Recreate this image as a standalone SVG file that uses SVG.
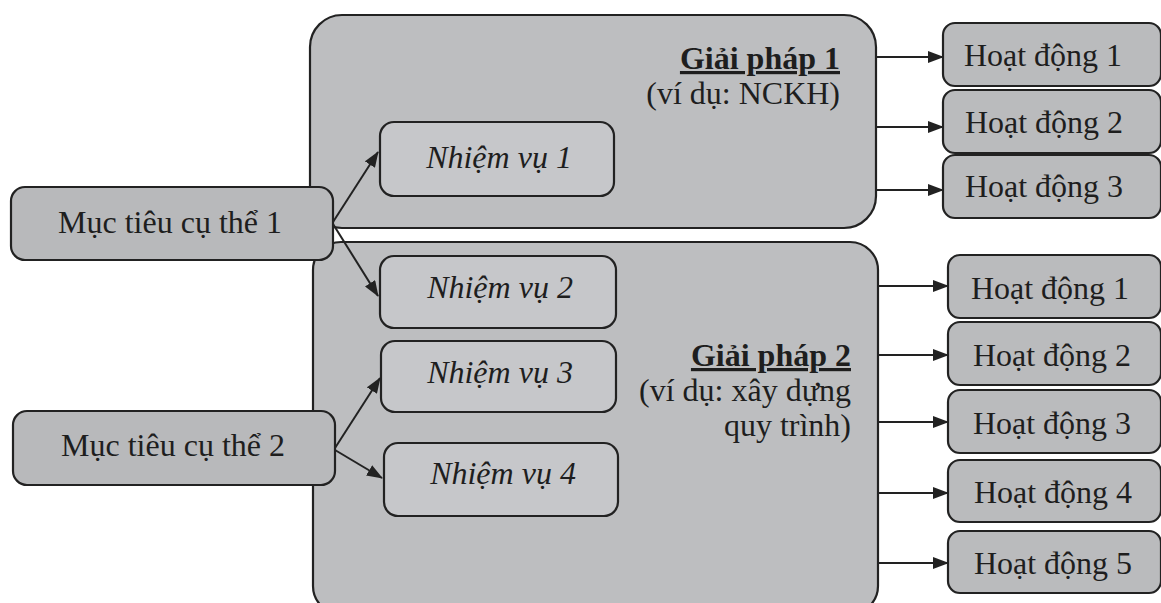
<svg xmlns="http://www.w3.org/2000/svg" width="1161" height="603" viewBox="0 0 1161 603">
<style>
.big{fill:#bdbec0;stroke:#222;stroke-width:2.2}
.mt{fill:#b8b9bb;stroke:#222;stroke-width:2.2}
.nv{fill:#c6c7ca;stroke:#222;stroke-width:2.2}
.hd{fill:#babbbd;stroke:#222;stroke-width:2.2}
.t{font-family:"Liberation Serif","Times New Roman",serif;font-size:32px;fill:#1e1e1e}
.i{font-style:italic}
.b{font-weight:bold;text-decoration:underline}
.c{stroke:#222;stroke-width:2;fill:none;marker-end:url(#ah)}
</style>
<defs>
<marker id="ah" viewBox="0 0 16 12" refX="15" refY="6" markerWidth="16" markerHeight="12" markerUnits="userSpaceOnUse" orient="auto">
<path d="M0,0 L16,6 L0,12 Z" fill="#222"/>
</marker>
</defs>
<rect width="1161" height="603" fill="#ffffff"/>
<g id="gp1"><rect class="big" x="310" y="15" width="566" height="213" rx="32"/>
<text class="t b" x="840" y="69" text-anchor="end">Giải pháp 1</text>
<text class="t" x="840" y="104" text-anchor="end">(ví dụ: NCKH)</text></g>
<g id="gp2"><rect class="big" x="313" y="242" width="565" height="372" rx="28"/>
<text class="t b" x="851" y="366" text-anchor="end">Giải pháp 2</text>
<text class="t" x="851" y="401" text-anchor="end">(ví dụ: xây dựng</text>
<text class="t" x="851" y="436" text-anchor="end">quy trình)</text></g>
<g id="mt1"><rect class="mt" x="11" y="187" width="322" height="73" rx="14"/><text class="t" x="170" y="233" text-anchor="middle">Mục tiêu cụ thể 1</text></g>
<g id="mt2"><rect class="mt" x="13" y="411" width="322" height="74" rx="14"/><text class="t" x="173" y="456" text-anchor="middle">Mục tiêu cụ thể 2</text></g>
<g id="nv1"><rect class="nv" x="380" y="122" width="234" height="74" rx="14"/><text class="t i" x="499" y="168" text-anchor="middle">Nhiệm vụ 1</text></g>
<g id="nv2"><rect class="nv" x="380" y="256" width="236" height="72" rx="14"/><text class="t i" x="500" y="298" text-anchor="middle">Nhiệm vụ 2</text></g>
<g id="nv3"><rect class="nv" x="381" y="341" width="235" height="71" rx="14"/><text class="t i" x="500" y="383" text-anchor="middle">Nhiệm vụ 3</text></g>
<g id="nv4"><rect class="nv" x="384" y="443" width="234" height="73" rx="14"/><text class="t i" x="503" y="484" text-anchor="middle">Nhiệm vụ 4</text></g>
<g id="hd1a"><rect class="hd" x="943" y="23" width="218" height="63" rx="12"/><text class="t" x="1043" y="66" text-anchor="middle">Hoạt động 1</text></g>
<g id="hd2a"><rect class="hd" x="943" y="90" width="218" height="63" rx="12"/><text class="t" x="1044" y="133" text-anchor="middle">Hoạt động 2</text></g>
<g id="hd3a"><rect class="hd" x="943" y="155" width="218" height="63" rx="12"/><text class="t" x="1044" y="197" text-anchor="middle">Hoạt động 3</text></g>
<g id="hd1b"><rect class="hd" x="948" y="255" width="213" height="63" rx="12"/><text class="t" x="1050" y="299" text-anchor="middle">Hoạt động 1</text></g>
<g id="hd2b"><rect class="hd" x="948" y="322" width="213" height="63" rx="12"/><text class="t" x="1052" y="366" text-anchor="middle">Hoạt động 2</text></g>
<g id="hd3b"><rect class="hd" x="948" y="390" width="213" height="63" rx="12"/><text class="t" x="1052" y="434" text-anchor="middle">Hoạt động 3</text></g>
<g id="hd4b"><rect class="hd" x="948" y="460" width="213" height="62" rx="12"/><text class="t" x="1053" y="503" text-anchor="middle">Hoạt động 4</text></g>
<g id="hd5b"><rect class="hd" x="948" y="531" width="213" height="62" rx="12"/><text class="t" x="1053" y="574" text-anchor="middle">Hoạt động 5</text></g>
<g id="connectors">
<path class="c" d="M333,222 L378,152"/>
<path class="c" d="M333,224 L378,296"/>
<path class="c" d="M335,448 L380,378"/>
<path class="c" d="M335,450 L382,478"/>
<path class="c" d="M876,57 L943,57"/>
<path class="c" d="M876,127 L943,127"/>
<path class="c" d="M876,190 L943,190"/>
<path class="c" d="M878,286 L948,286"/>
<path class="c" d="M878,355 L948,355"/>
<path class="c" d="M878,422 L948,422"/>
<path class="c" d="M878,493 L948,493"/>
<path class="c" d="M878,563 L948,563"/>
</g>
</svg>
